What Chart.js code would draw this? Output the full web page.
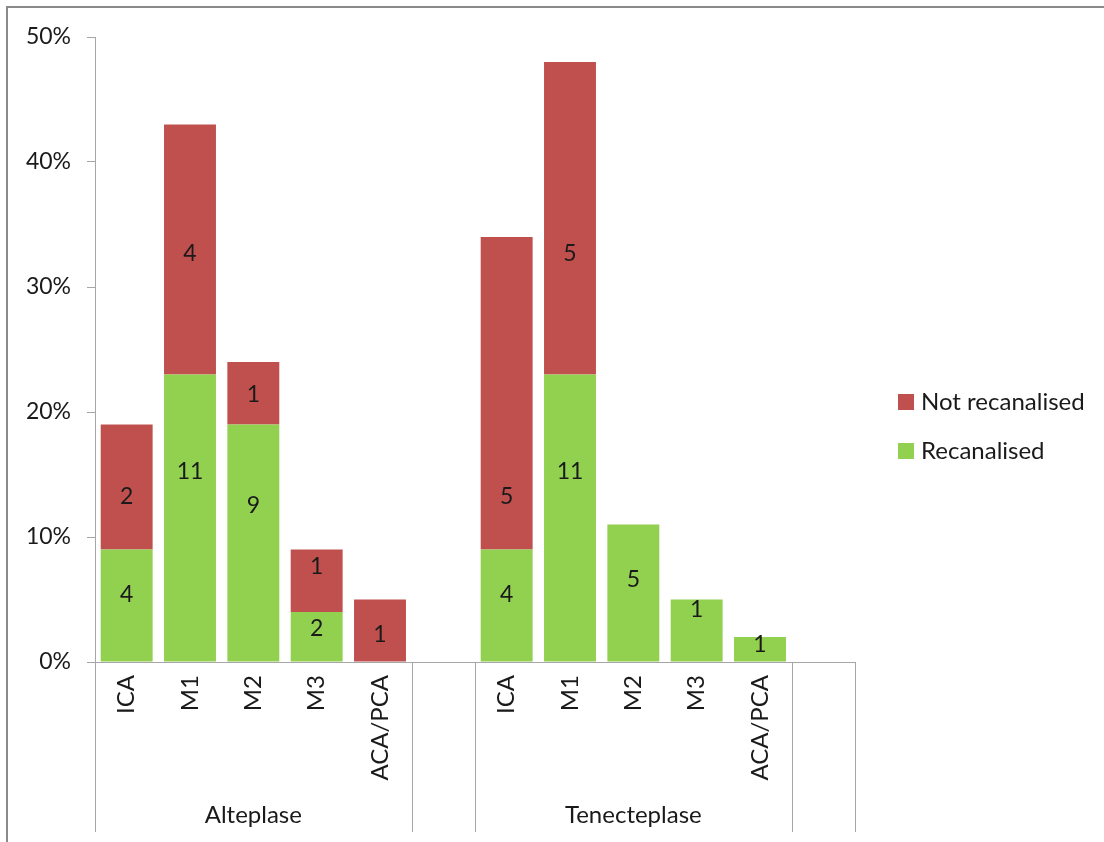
<!DOCTYPE html>
<html>
<head>
<meta charset="utf-8">
<script src="https://cdn.jsdelivr.net/npm/chart.js@4.4.1/dist/chart.umd.min.js"></script>
<style>
  html, body { margin: 0; padding: 0; background: #ffffff; }
  #wrap { position: relative; width: 1104px; height: 842px; }
</style>
</head>
<body>
<div id="wrap"><canvas id="c" width="1104" height="842"></canvas></div>
<script>
// Vessel slots: five per drug, followed by an empty spacer slot
const groups = ['Alteplase', 'Tenecteplase'];
const groupSize = 5;
const categories = ['ICA', 'M1', 'M2', 'M3', 'ACA/PCA', '', 'ICA', 'M1', 'M2', 'M3', 'ACA/PCA', ''];

// Share of patients (%) per occlusion site
const recanalisedPct    = [9, 23, 19, 4, 0, null, 9, 23, 11, 5, 2, null];
const notRecanalisedPct = [10, 20, 5, 5, 5, null, 25, 25, 0, 0, 0, null];

// Patient counts printed on the bars
const recanalisedN    = [4, 11, 9, 2, null, null, 4, 11, 5, 1, 1, null];
const notRecanalisedN = [2, 4, 1, 1, 1, null, 5, 5, null, null, null, null];

// Height (in % units) at which each count is printed
const recanalisedLabelAt    = [5.4, 15.2, 12.5, 2.7, null, null, 5.4, 15.2, 6.6, 4.2, 1.4, null];
const notRecanalisedLabelAt = [13.2, 32.7, 21.4, 7.6, 2.2, null, 13.2, 32.7, null, null, null, null];

const yTicks = [0, 10, 20, 30, 40, 50];

const RED = '#C0504D';
const GREEN = '#92D050';
const AXIS = '#a6a6a6';
const TEXT = '#1a1a1a';
const FONT_FAMILY = 'Lato, "Open Sans", sans-serif';
const NUM_SIZE = 23;
const WORD_SIZE = 24;

const seriesLabels = [
  { ds: 1, counts: notRecanalisedN, at: notRecanalisedLabelAt },
  { ds: 0, counts: recanalisedN, at: recanalisedLabelAt }
];

const decorations = {
  id: 'decorations',
  beforeDraw(chart) {
    const ctx = chart.ctx;
    ctx.save();
    ctx.fillStyle = '#ffffff';
    ctx.fillRect(0, 0, chart.width, chart.height);
    // outer frame (top and left edges)
    ctx.strokeStyle = '#8a8a8a';
    ctx.lineWidth = 2;
    ctx.beginPath();
    ctx.moveTo(7, chart.height);
    ctx.lineTo(7, 7);
    ctx.lineTo(chart.width, 7);
    ctx.stroke();
    ctx.restore();
  },
  afterDraw(chart) {
    const ctx = chart.ctx;
    const x = chart.scales.x;
    const y = chart.scales.y;
    const step = (x.right - x.left) / categories.length;
    const bottom = x.bottom - 10;
    ctx.save();

    // group separators on the category axis
    ctx.strokeStyle = AXIS;
    ctx.lineWidth = 1;
    const bounds = new Set();
    groups.forEach((g, gi) => {
      const start = gi * (groupSize + 1);
      bounds.add(start);
      bounds.add(start + groupSize);
      bounds.add(start + groupSize + 1);
    });
    bounds.forEach(b => {
      const px = Math.round(x.left + b * step) + 0.5;
      ctx.beginPath();
      ctx.moveTo(px, y.bottom);
      ctx.lineTo(px, bottom);
      ctx.stroke();
    });

    // group names
    ctx.fillStyle = TEXT;
    ctx.font = WORD_SIZE + 'px ' + FONT_FAMILY;
    ctx.textAlign = 'center';
    ctx.textBaseline = 'middle';
    groups.forEach((g, gi) => {
      const start = gi * (groupSize + 1);
      const cx = x.left + (start + groupSize / 2) * step;
      ctx.fillText(g, cx, 815);
    });

    // count labels on the bars
    ctx.font = NUM_SIZE + 'px ' + FONT_FAMILY;
    seriesLabels.forEach(s => {
      s.counts.forEach((n, i) => {
        if (n == null || s.at[i] == null) return;
        const px = x.getPixelForValue(i);
        const py = y.getPixelForValue(s.at[i]);
        ctx.fillText(String(n), px, py);
      });
    });

    // legend
    ctx.font = WORD_SIZE + 'px ' + FONT_FAMILY;
    const lx = x.right + 43;
    const items = [
      { label: chart.data.datasets[1].label, color: RED, y: 402 },
      { label: chart.data.datasets[0].label, color: GREEN, y: 451 }
    ];
    ctx.textAlign = 'left';
    items.forEach(it => {
      ctx.fillStyle = it.color;
      ctx.fillRect(lx, it.y - 8, 16, 16);
      ctx.fillStyle = TEXT;
      ctx.fillText(it.label, lx + 23, it.y);
    });
    ctx.restore();
  }
};

new Chart(document.getElementById('c'), {
  type: 'bar',
  data: {
    labels: categories,
    datasets: [
      { label: 'Recanalised', data: recanalisedPct, backgroundColor: GREEN, borderWidth: 0 },
      { label: 'Not recanalised', data: notRecanalisedPct, backgroundColor: RED, borderWidth: 0 }
    ]
  },
  options: {
    responsive: false,
    animation: false,
    devicePixelRatio: 1,
    layout: { padding: { left: 0, top: 37, right: 249, bottom: 0 } },
    datasets: { bar: { categoryPercentage: 1.0, barPercentage: 0.82 } },
    plugins: { legend: { display: false }, tooltip: { enabled: false }, title: { display: false } },
    scales: {
      x: {
        stacked: true,
        grid: { display: false, drawTicks: false },
        border: { display: true, color: AXIS, width: 1 },
        ticks: {
          autoSkip: false, maxRotation: 90, minRotation: 90, padding: 13,
          color: TEXT, font: { family: FONT_FAMILY, size: WORD_SIZE }
        },
        afterFit(s) { s.height = 180; }
      },
      y: {
        stacked: true,
        min: 0, max: 50,
        afterBuildTicks(s) { s.ticks = yTicks.map(v => ({ value: v })); },
        grid: { drawOnChartArea: false, drawTicks: true, tickLength: 8, color: AXIS },
        border: { display: true, color: AXIS, width: 1 },
        ticks: {
          padding: 16, color: TEXT,
          font: { family: FONT_FAMILY, size: NUM_SIZE },
          callback: v => v + '%'
        },
        afterFit(s) { s.width = 95; }
      }
    }
  },
  plugins: [decorations]
});
</script>
</body>
</html>
